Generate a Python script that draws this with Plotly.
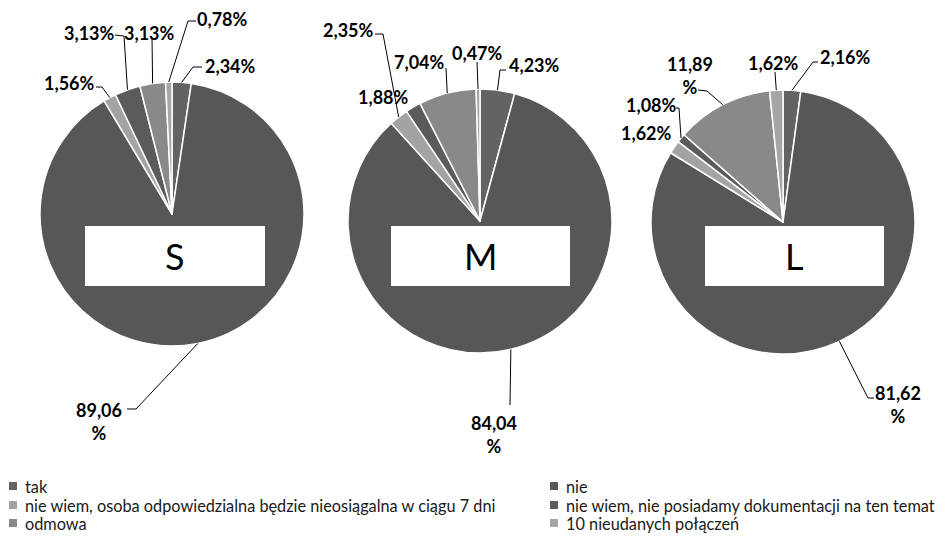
import math
import plotly.graph_objects as go

# ---------------- data ----------------
categories = [
    "tak",
    "nie",
    "nie wiem, osoba odpowiedzialna będzie nieosiągalna w ciągu 7 dni",
    "nie wiem, nie posiadamy dokumentacji na ten temat",
    "odmowa",
    "10 nieudanych połączeń",
]
groups = ["S", "M", "L"]
s_values = [2.34, 89.06, 1.56, 3.13, 3.13, 0.78]
m_values = [4.23, 84.04, 2.35, 1.88, 7.04, 0.47]
l_values = [2.16, 81.62, 1.62, 1.08, 11.89, 1.62]
series = [s_values, m_values, l_values]

# ---------------- style / layout ----------------
W, H = 946, 536
colors = ["#636363", "#575757", "#a3a3a3", "#5b5b5b", "#898989", "#a6a6a6"]
pie_centers = [(172, 214), (480, 221), (783, 222)]
R = 132
boxes = [(85, 226, 265, 286), (391, 226, 570, 286), (705, 226, 884, 286)]

# label placements per pie, per slice: (text centre x, y), leader waypoints (px)
label_layout = [
    [((230, 66), [(193, 67), (202, 67)]),
     ((99, 421), [(136, 409), (127, 409)]),
     ((69, 83), [(102, 87), (96, 87)]),
     ((89, 33), [(124, 36), (115, 35)]),
     ((149, 33), [(152, 38)]),
     ((222, 19), [(188, 21), (196, 21)])],
    [((534, 65), [(500, 70), (506, 70)]),
     ((494, 434), [(510, 405)]),
     ((348, 30), [(383, 34), (375, 34)]),
     ((383, 97), []),
     ((419, 62), [(446, 68)]),
     ((477, 53), [(477, 62)])],
    [((845, 57), [(813, 62), (818, 62)]),
     ((898, 404), [(868, 398), (874, 398)]),
     ((646, 133), []),
     ((651, 105), [(679, 108), (676, 108)]),
     ((690, 75), [(707, 91), (698, 90)]),
     ((773, 63), [(775, 72)])],
]


def px(x):
    return x / W


def py(y):
    return 1 - y / H


def fmt(v):
    s = f"{v:.2f}".replace(".", ",")
    if v >= 10:
        return s + "<br>%"
    return s + "%"


fig = go.Figure()
shapes = []
annotations = []

for gi, (g, vals) in enumerate(zip(groups, series)):
    cx, cy = pie_centers[gi]
    fig.add_trace(go.Pie(
        labels=categories,
        values=vals,
        sort=False,
        direction="clockwise",
        rotation=0,
        textinfo="none",
        hoverinfo="label+percent",
        showlegend=False,
        marker=dict(colors=colors, line=dict(color="white", width=1.5)),
        domain=dict(x=[px(cx - R), px(cx + R)], y=[py(cy + R), py(cy - R)]),
        name=g,
    ))

    # white box with group name
    x0, y0, x1, y1 = boxes[gi]
    shapes.append(dict(type="rect", xref="paper", yref="paper",
                       x0=px(x0), x1=px(x1), y0=py(y1), y1=py(y0),
                       fillcolor="white", line=dict(width=0), layer="above"))
    annotations.append(dict(x=px((x0 + x1) / 2), y=py((y0 + y1) / 2), xref="paper", yref="paper",
                            text=g, showarrow=False, xanchor="center", yanchor="middle",
                            font=dict(family="Lato", size=36, color="black")))

    # data labels with leader lines
    total = sum(vals)
    cum = 0.0
    for si, v in enumerate(vals):
        mid = (cum + v / 2) / total * 2 * math.pi
        cum += v
        ax = cx + R * math.sin(mid)
        ay = cy - R * math.cos(mid)
        (tx, ty), pts = label_layout[gi][si]
        if pts:
            path = f"M {px(ax)},{py(ay)}"
            for (qx, qy) in pts:
                path += f" L {px(qx)},{py(qy)}"
            shapes.append(dict(type="path", xref="paper", yref="paper", path=path,
                               line=dict(color="black", width=1), layer="above"))
        annotations.append(dict(x=px(tx), y=py(ty), xref="paper", yref="paper",
                                text=fmt(v), showarrow=False, xanchor="center", yanchor="middle",
                                align="center",
                                font=dict(family="Lato", size=18, color="black", weight=700)))

# manual legend, 2 columns, row-major
legend_cols = [9, 550]
legend_rows = [486, 505, 523]
for i, cat in enumerate(categories):
    col = i % 2
    row = i // 2
    lx = legend_cols[col]
    ly = legend_rows[row]
    shapes.append(dict(type="rect", xref="paper", yref="paper",
                       x0=px(lx), x1=px(lx + 8), y0=py(ly + 4), y1=py(ly - 4),
                       fillcolor=colors[i], line=dict(width=0)))
    annotations.append(dict(x=px(lx + 14), y=py(ly), xref="paper", yref="paper",
                            text=cat, showarrow=False, xanchor="left", yanchor="middle",
                            font=dict(family="Lato", size=16.3, color="#1a1a1a")))

fig.update_layout(
    width=W, height=H,
    margin=dict(l=0, r=0, t=0, b=0),
    paper_bgcolor="white",
    plot_bgcolor="white",
    shapes=shapes,
    annotations=annotations,
    showlegend=False,
)

fig.write_html(
    "out.html",
    config={"displayModeBar": False},
    post_script="document.body.style.margin='0';document.body.style.overflow='hidden';",
)
